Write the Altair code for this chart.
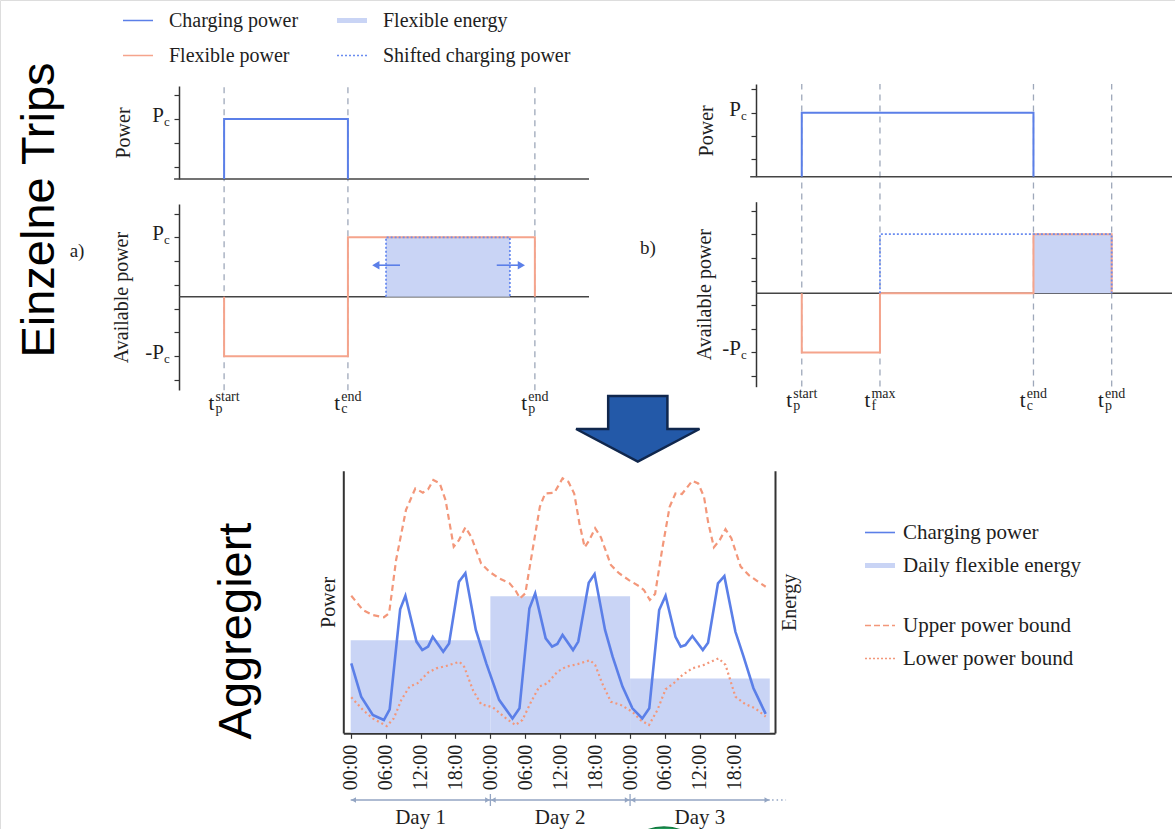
import altair as alt
import pandas as pd

# ---------------- data: single trips (time in h, power in units of P_c) ----------------
a_events = [1.1, 4.12, 8.68]
a_event_sub = ["p", "c", "p"]
a_event_sup = ["start", "end", "end"]
a_charge_t = [1.1, 1.1, 4.12, 4.12]
a_charge_p = [0, 1, 1, 0]
a_flex_t = [1.1, 1.1, 4.12, 4.12, 8.68, 8.68]
a_flex_p = [0, -1, -1, 1, 1, 0]
a_shift_t = [5.05, 5.05, 8.07, 8.07]
a_shift_p = [0, 1, 1, 0]
a_energy_t = [5.05, 8.07]
a_arrow_from = [5.39, 7.75]
a_arrow_to = [4.8, 8.35]
a_arrow_p = [0.53, 0.53]
a_arrow_shape = ["triangle-left", "triangle-right"]

b_events = [1.1, 2.98, 6.67, 8.55]
b_event_sub = ["p", "f", "c", "p"]
b_event_sup = ["start", "max", "end", "end"]
b_charge_t = [1.1, 1.1, 6.67, 6.67]
b_charge_p = [0, 1, 1, 0]
b_flex_t = [1.1, 1.1, 2.98, 2.98, 6.67, 6.67, 8.55, 8.55]
b_flex_p = [0, -1, -1, 0, 0, 1, 1, 0]
b_shift_t = [2.98, 2.98, 8.55, 8.55]
b_shift_p = [0, 1, 1, 0]
b_energy_t = [6.67, 8.55]

# legend entries (column-major order: column 1 then column 2)
top_legend_names = ["Charging power", "Flexible power", "Flexible energy", "Shifted charging power"]

# ---------------- data: aggregated (hours since day 1 00:00) ----------------
cp_h = [0.1, 1.8, 3.8, 5.7, 6.7, 8.5, 9.4, 11.3, 12.3, 13.3, 14.1, 15.9, 16.9, 18.6, 19.7, 21.5, 23.3,
        25.5, 27.8, 29.0, 30.7, 31.7, 33.5, 34.6, 35.5, 36.4, 38.2, 39.1, 40.9, 41.9, 43.7, 45.0, 46.7,
        48.4, 50.1, 51.3, 53.0, 54.1, 55.8, 56.7, 57.5, 58.7, 60.5, 61.4, 63.1, 64.2, 66.1, 67.5, 69.2, 71.3]
cp_v = [26.3, 13.7, 6.8, 4.9, 8.9, 46.7, 51.8, 34.5, 31.3, 32.6, 36.3, 30.7, 33.8, 57.1, 60.3, 38.9, 26.3,
        12.5, 5.5, 9.3, 47.0, 52.7, 35.7, 32.6, 33.6, 37.0, 31.3, 34.5, 56.7, 60.0, 38.9, 28.8, 17.5,
        9.3, 5.5, 9.3, 46.4, 51.8, 36.3, 32.6, 33.2, 36.6, 31.3, 34.1, 56.5, 59.2, 38.2, 28.8, 16.9, 7.2]
ub_h = [0.1, 2.1, 3.8, 5.7, 6.6, 7.8, 9.5, 11.1, 12.4, 13.3, 14.2, 15.3, 16.3, 17.7, 18.6, 19.7, 20.7, 22.4,
        23.8, 25.5, 27.3, 28.3, 29.1, 30.0, 31.25, 32.5, 33.4, 35.0, 36.4, 37.4, 38.4, 39.3, 40.2, 41.0,
        42.0, 43.0, 44.7, 46.1, 47.8, 49.5, 50.4, 51.4, 52.3, 53.5, 54.8, 55.8, 56.9, 58.7, 59.7, 60.7,
        61.4, 62.4, 63.4, 64.4, 65.4, 67.0, 68.4, 70.0, 71.3]
ub_v = [51.8, 46.4, 44.5, 43.7, 45.2, 65.3, 84.2, 92.3, 90.7, 92.0, 95.5, 94.2, 87.9, 70.3, 72.8, 77.6, 74.1, 64.0,
        60.9, 58.4, 56.5, 53.9, 50.8, 52.7, 69.1, 85.4, 90.4, 90.7, 96.1, 94.8, 90.4, 79.1, 70.1, 72.8,
        77.3, 73.8, 63.4, 60.3, 57.7, 55.5, 53.9, 50.2, 52.5, 69.1, 85.4, 90.4, 90.2, 95.2, 94.2, 89.2,
        79.7, 70.1, 72.8, 76.9, 73.5, 62.8, 59.6, 57.1, 55.2]
lb_h = [0.1, 2.1, 3.8, 6.2, 7.4, 8.7, 10.1, 11.5, 13.3, 14.7, 16.4, 18.7, 19.5, 21.0, 22.4, 24.4, 26.7, 28.3,
        29.5, 31.0, 32.4, 33.8, 35.5, 37.0, 39.0, 41.1, 42.0, 43.2, 44.7, 46.4, 48.4, 49.8, 51.25, 52.7,
        54.1, 55.5, 57.0, 58.7, 60.7, 63.2, 64.4, 66.1, 67.8, 69.5, 71.3]
lb_v = [13.5, 8.7, 5.5, 2.6, 5.5, 12.5, 17.5, 18.8, 22.8, 24.4, 25.3, 26.9, 25.0, 16.2, 10.9, 9.7, 5.5, 3.0,
        4.9, 11.8, 17.5, 18.8, 23.1, 25.0, 26.0, 27.5, 25.7, 18.8, 11.8, 10.6, 8.0, 4.9, 3.0, 8.7,
        16.5, 18.8, 21.9, 24.4, 25.7, 28.2, 25.7, 13.7, 10.9, 9.3, 6.2]
day_labels = ["Day 1", "Day 2", "Day 3"]
day_start = [0, 24, 48]
day_end = [24, 48, 72]
day_energy = [35.0, 51.6, 20.6]
tick_hours = [0, 6, 12, 18, 24, 30, 36, 42, 48, 54, 60, 66]
tick_labels = ["00:00", "06:00", "12:00", "18:00"] * 3
bottom_legend1 = ["Charging power", "Daily flexible energy"]
bottom_legend2 = ["Upper power bound", "Lower power bound"]

# ---------------- style ----------------
SERIF = "Liberation Serif"
SANS = "Liberation Sans"
BLUE = "#5b7fe8"
DOTBLUE = "#6a8cf0"
ORANGE = "#f5a48c"
BOUND = "#f3977a"
LIGHT = "#c9d4f5"
GUIDE = "#9ea8ba"
AXIS = "#333333"
ZERO = "#444444"
TEXT = "#1e1e1e"
DAYC = "#93a5c3"
# thick legend patch drawn as a stack of strokes
PATCH = "M-1,-0.12H1M-1,-0.06H1M-1,0H1M-1,0.06H1M-1,0.12H1"
ARROW = "M-0.48,-0.535L0.48,-0.535L0.48,0L1,0L0,0.53L-1,0L-0.48,0Z"
BLOB = "M-1,0A1,0.6 0 1,1 1,0A1,0.6 0 1,1 -1,0Z"
CW = {"s": .389, "t": .278, "a": .444, "r": .333, "e": .444, "n": .5, "d": .5, "m": .778, "x": .5}


def qs(domain, rng):
    return alt.Scale(domain=domain, range=rng, nice=False, zero=False)


class G:
    """scales + axes shared by all layers of one sub-panel"""

    def __init__(self, xs, xa, ys, ya):
        self.xs, self.xa, self.ys, self.ya = xs, xa, ys, ya

    def X(self, f):
        return alt.X(f + ":Q", scale=self.xs, axis=self.xa)

    def Y(self, f):
        return alt.Y(f + ":Q", scale=self.ys, axis=self.ya)


def left_axis(offset, ticks, title, pad):
    return alt.Axis(orient="left", offset=offset, values=ticks, labels=False, grid=False,
                    domainColor=AXIS, domainWidth=1.5, tickColor=AXIS, tickWidth=1.2, tickSize=5,
                    title=title, titleFont=SERIF, titleFontSize=20, titleFontWeight="normal",
                    titleColor=TEXT, titlePadding=pad)


def guides(g, events, lo, hi):
    d = pd.DataFrame({"t": events, "lo": [lo] * len(events), "hi": [hi] * len(events)})
    return alt.Chart(d).mark_rule(color=GUIDE, strokeWidth=1.3, strokeDash=[6, 5]).encode(
        x=g.X("t"), y=g.Y("lo"), y2=alt.Y2("hi"))


def zero_rule(g, x0, x1):
    d = pd.DataFrame({"a": [x0], "b": [x1], "z": [0]})
    return alt.Chart(d).mark_rule(color=ZERO, strokeWidth=1.6).encode(
        x=g.X("a"), x2=alt.X2("b"), y=g.Y("z"))


def step_line(g, ts, ps, color, dash=None, width=2.0):
    d = pd.DataFrame({"t": ts, "p": ps, "o": list(range(len(ts)))})
    kw = dict(color=color, strokeWidth=width)
    if dash is not None:
        kw["strokeDash"] = dash
    return alt.Chart(d).mark_line(**kw).encode(x=g.X("t"), y=g.Y("p"), order=alt.Order("o:Q"))


def energy_rect(g, t):
    d = pd.DataFrame({"a": [t[0]], "b": [t[1]], "lo": [0], "hi": [1]})
    return alt.Chart(d).mark_rect(color=LIGHT, opacity=1).encode(
        x=g.X("a"), x2=alt.X2("b"), y=g.Y("lo"), y2=alt.Y2("hi"))


def p_labels(g, vals, mains):
    d = pd.DataFrame({"xa": [0] * len(vals), "y": vals, "m": mains, "s": ["c"] * len(vals)})
    main = alt.Chart(d).mark_text(align="right", baseline="alphabetic", dx=-15, dy=3, font=SERIF,
                                  fontSize=21, color=TEXT).encode(x=g.X("xa"), y=g.Y("y"), text="m:N")
    sub = alt.Chart(d).mark_text(align="left", baseline="alphabetic", dx=-15, dy=7, font=SERIF,
                                 fontSize=13, color=TEXT).encode(x=g.X("xa"), y=g.Y("y"), text="s:N")
    return [main, sub]


def t_labels(g, events, subs, sups, ybottom, ppu):
    rows = []
    for t, sb, sp in zip(events, subs, sups):
        supw = sum(CW.get(c, .5) for c in sp) * 14
        w = 6.0 + 1.0 + supw
        left = t - (w / 2) / ppu
        rows.append({"x0": left, "x1": left + 7.0 / ppu, "yb": ybottom, "sub": sb, "sup": sp})
    d = pd.DataFrame(rows)
    base = alt.Chart(d)
    tt = base.mark_text(text="t", align="left", baseline="alphabetic", dy=20, font=SERIF, fontSize=21,
                        color=TEXT).encode(x=g.X("x0"), y=g.Y("yb"))
    sb = base.mark_text(align="left", baseline="alphabetic", dy=23, font=SERIF, fontSize=14,
                        color=TEXT).encode(x=g.X("x1"), y=g.Y("yb"), text="sub:N")
    sp = base.mark_text(align="left", baseline="alphabetic", dy=11, font=SERIF, fontSize=14,
                        color=TEXT).encode(x=g.X("x1"), y=g.Y("yb"), text="sup:N")
    return [tt, sb, sp]


def legend_kw(x, y, columns=1, size=20, offset=15, rowpad=15, colpad=34, symtype=None):
    kw = dict(orient="none", legendX=x, legendY=y, columns=columns, title=None, labelFont=SERIF,
              labelFontSize=size, labelColor=TEXT, labelOffset=offset, rowPadding=rowpad, labelLimit=500,
              columnPadding=colpad, padding=0, symbolSize=900, symbolStrokeWidth=1.6, symbolOpacity=1)
    if symtype:
        kw["symbolType"] = symtype
    return kw


# ================= panel a =================
xsA = qs([0, 10], [179, 589])
gAt = G(xsA, None, qs([0, 1.55], [179, 86]), left_axis(-179, [0.2, 0.6, 1.0, 1.4], "Power", 40))
gAb = G(xsA, None, qs([-1.57, 1.56], [390, 204]),
        left_axis(-179, [-1.4, -1, -0.6, -0.2, 0.2, 0.6, 1.0, 1.4], "Available power", 42))

pa_top = alt.layer(
    guides(gAt, a_events, -3.52, 1.55),
    zero_rule(gAt, -0.12, 10),
    step_line(gAt, a_charge_t, a_charge_p, BLUE),
    *p_labels(gAt, [1], ["P"]),
)

arrows_a = pd.DataFrame({"f": a_arrow_from, "t": a_arrow_to, "p": a_arrow_p, "s": a_arrow_shape})
leg_top_df = pd.DataFrame({"name": top_legend_names, "t": [-60] * 4, "p": [0] * 4})
ltk = legend_kw(122, 4.5, columns=2, rowpad=9)
legend_top = alt.Chart(leg_top_df).mark_point(opacity=1, filled=False).encode(
    x=gAb.X("t"), y=gAb.Y("p"),
    color=alt.Color("name:N", scale=alt.Scale(domain=top_legend_names, range=[BLUE, ORANGE, LIGHT, DOTBLUE]),
                    legend=alt.Legend(**ltk)),
    strokeDash=alt.StrokeDash("name:N", scale=alt.Scale(domain=top_legend_names,
                                                        range=[[1, 0], [1, 0], [1, 0], [2, 2]]),
                              legend=alt.Legend(**ltk)),
    shape=alt.Shape("name:N", scale=alt.Scale(domain=top_legend_names,
                                              range=["stroke", "stroke", PATCH, "stroke"]),
                    legend=alt.Legend(**ltk)),
)

pa_bot = alt.layer(
    zero_rule(gAb, 0, 10),
    energy_rect(gAb, a_energy_t),
    step_line(gAb, a_flex_t, a_flex_p, ORANGE),
    step_line(gAb, a_shift_t, a_shift_p, DOTBLUE, dash=[2, 2], width=1.8),
    alt.Chart(arrows_a).mark_rule(color=BLUE, strokeWidth=1.6).encode(x=gAb.X("f"), x2=alt.X2("t"), y=gAb.Y("p")),
    alt.Chart(arrows_a).mark_point(filled=True, opacity=1, size=70, color=BLUE).encode(
        x=gAb.X("t"), y=gAb.Y("p"), shape=alt.Shape("s:N", scale=None)),
    *p_labels(gAb, [1, -1], ["P", "-P"]),
    *t_labels(gAb, a_events, a_event_sub, a_event_sup, -1.57, 41.0),
    legend_top,
)

# ================= panel b =================
xsB = qs([0, 10], [756, 1172])
gBt = G(xsB, None, qs([0, 1.45], [176.7, 84]), left_axis(-756, [0.27, 0.635, 1.0, 1.365], "Power", 34))
gBb = G(xsB, None, qs([-1.58, 1.55], [386.7, 201.7]),
        left_axis(-756, [-1.4, -1, -0.6, -0.2, 0.2, 0.6, 1.0, 1.4], "Available power", 36))

pb_top = alt.layer(
    guides(gBt, b_events, -3.28, 1.45),
    zero_rule(gBt, -0.14, 10),
    step_line(gBt, b_charge_t, b_charge_p, BLUE),
    *p_labels(gBt, [1], ["P"]),
)

pb_bot = alt.layer(
    zero_rule(gBb, 0, 10),
    energy_rect(gBb, b_energy_t),
    step_line(gBb, b_flex_t, b_flex_p, ORANGE),
    step_line(gBb, b_shift_t, b_shift_p, DOTBLUE, dash=[2, 2], width=1.8),
    *p_labels(gBb, [-1], ["-P"]),
    *t_labels(gBb, b_events, b_event_sub, b_event_sup, -1.58, 41.6),
)

# ================= aggregated chart =================
xsG = qs([-1.27, 72.9], [343.3, 775])
ysG = qs([0, 99], [733, 470.7])

energy_axis = alt.Axis(orient="right", offset=-400, ticks=False, labels=False, grid=False,
                       domainColor=AXIS, domainWidth=2, title="Energy", titleAngle=270,
                       titleBaseline="top", titleFont=SERIF, titleFontSize=20,
                       titleFontWeight="normal", titleColor=TEXT, titlePadding=4)
gE = G(xsG, None, ysG, energy_axis)

energy_df = pd.DataFrame({"h0": day_start, "h1": day_end, "z": [0] * 3, "e": day_energy})
leg2_df = pd.DataFrame({"name": bottom_legend2, "t": [-200] * 2, "p": [0] * 2})
l2k = legend_kw(864, 609.5, size=21, offset=7, rowpad=7, symtype="stroke")
bot_bars = alt.layer(
    alt.Chart(energy_df).mark_rect(color=LIGHT, opacity=1).encode(
        x=gE.X("h0"), x2=alt.X2("h1"), y=gE.Y("z"), y2=alt.Y2("e")),
    alt.Chart(leg2_df).mark_point(opacity=1, filled=False).encode(
        x=gE.X("t"), y=gE.Y("p"),
        color=alt.Color("name:N", scale=alt.Scale(domain=bottom_legend2, range=[BOUND, BOUND]),
                        legend=alt.Legend(**l2k)),
        strokeDash=alt.StrokeDash("name:N", scale=alt.Scale(domain=bottom_legend2, range=[[6, 3], [2, 2]]),
                                  legend=alt.Legend(**l2k))),
)

label_expr = "[" + ",".join("'%s'" % s for s in tick_labels) + "][indexof([" + \
             ",".join(str(h) for h in tick_hours) + "], datum.value)]"
x_axis = alt.Axis(orient="bottom", offset=-95.7, values=tick_hours, labelExpr=label_expr, labelAngle=270,
                  labelFont=SERIF, labelFontSize=20, labelColor=TEXT, labelPadding=6, tickSize=5,
                  tickColor=AXIS, tickWidth=1.2, domainColor=AXIS, domainWidth=2, grid=False, title=None,
                  labelOverlap=False)
y_axis = alt.Axis(orient="left", offset=-343.3, ticks=False, labels=False, grid=False, domainColor=AXIS,
                  domainWidth=2, title="Power", titleFont=SERIF, titleFontSize=20, titleFontWeight="normal",
                  titleColor=TEXT, titlePadding=5)
gL = G(xsG, x_axis, ysG, y_axis)


def series(h, v, color, dash=None, width=2.2):
    d = pd.DataFrame({"h": h, "v": v})
    kw = dict(color=color, strokeWidth=width)
    if dash is not None:
        kw["strokeDash"] = dash
    return alt.Chart(d).mark_line(**kw).encode(x=gL.X("h"), y=gL.Y("v"))


one = pd.DataFrame({"k": [0]})
days_df = pd.DataFrame({"h0": day_start, "h1": day_end, "mid": [(a + b) / 2 for a, b in zip(day_start, day_end)],
                        "lab": day_labels, "a0": [s + 0.5 for s in day_start], "a1": [e - 0.5 for e in day_end]})
sep_df = pd.DataFrame({"h": day_start[1:]})
more_df = pd.DataFrame({"a": [day_end[-1] + 0.4], "b": [day_end[-1] + 2.8]})
leg1_df = pd.DataFrame({"name": bottom_legend1, "t": [-200] * 2, "p": [0] * 2})
l1k = legend_kw(864, 516.5, size=21, offset=7, rowpad=7)

bot_lines = alt.layer(
    series(lb_h, lb_v, BOUND, dash=[2, 3]),
    series(ub_h, ub_v, BOUND, dash=[6, 4]),
    series(cp_h, cp_v, BLUE, width=2.6),
    alt.Chart(days_df).mark_rule(color=DAYC, strokeWidth=1.3).encode(
        x=gL.X("h0"), x2=alt.X2("h1"), y=alt.value(800)),
    alt.Chart(days_df).mark_point(shape="triangle-left", filled=True, opacity=1, size=30, color=DAYC).encode(
        x=gL.X("a0"), y=alt.value(800)),
    alt.Chart(days_df).mark_point(shape="triangle-right", filled=True, opacity=1, size=30, color=DAYC).encode(
        x=gL.X("a1"), y=alt.value(800)),
    alt.Chart(sep_df).mark_rule(color=DAYC, strokeWidth=1.3).encode(
        x=gL.X("h"), y=alt.value(794), y2=alt.value(806)),
    alt.Chart(more_df).mark_rule(color=DAYC, strokeWidth=1.5, strokeDash=[1.5, 3]).encode(
        x=gL.X("a"), x2=alt.X2("b"), y=alt.value(800)),
    # partly hidden green logo at the bottom edge (drawn behind the day labels)
    alt.Chart(one).mark_point(shape=BLOB, size=3600, filled=True, opacity=1, fill="#1f9a57",
                              stroke="#137a40", strokeWidth=1.5).encode(x=alt.value(664), y=alt.value(845)),
    alt.Chart(days_df).mark_text(font=SERIF, fontSize=21, color=TEXT, baseline="alphabetic").encode(
        x=gL.X("mid"), y=alt.value(824), text="lab:N"),
    alt.Chart(leg1_df).mark_point(opacity=1, filled=False).encode(
        x=gL.X("t"), y=gL.Y("p"),
        color=alt.Color("name:N", scale=alt.Scale(domain=bottom_legend1, range=[BLUE, LIGHT]),
                        legend=alt.Legend(**l1k)),
        shape=alt.Shape("name:N", scale=alt.Scale(domain=bottom_legend1, range=["stroke", PATCH]),
                        legend=alt.Legend(**l1k))),
)

# ================= annotations =================
annot = alt.layer(
    alt.Chart(pd.DataFrame({"s": ["Einzelne Trips"]})).mark_text(
        angle=270, font=SANS, fontSize=47, align="center", baseline="middle", color="#000000").encode(
        x=alt.value(40), y=alt.value(210), text="s:N"),
    alt.Chart(pd.DataFrame({"s": ["Aggregiert"]})).mark_text(
        angle=270, font=SANS, fontSize=47, align="center", baseline="middle", color="#000000").encode(
        x=alt.value(237), y=alt.value(631), text="s:N"),
    alt.Chart(pd.DataFrame({"s": ["a)"]})).mark_text(
        font=SERIF, fontSize=19, align="center", baseline="middle", color=TEXT).encode(
        x=alt.value(77), y=alt.value(251), text="s:N"),
    alt.Chart(pd.DataFrame({"s": ["b)"]})).mark_text(
        font=SERIF, fontSize=19, align="center", baseline="middle", color=TEXT).encode(
        x=alt.value(648), y=alt.value(248), text="s:N"),
    alt.Chart(one).mark_point(shape=ARROW, size=15228, filled=True, opacity=1, fill="#2359a8",
                              stroke="#10274d", strokeWidth=2.5).encode(x=alt.value(637.8), y=alt.value(429)),
)

chart = alt.layer(pa_top, pa_bot, pb_top, pb_bot, bot_bars, bot_lines, annot).resolve_scale(
    x="independent", y="independent", color="independent", strokeDash="independent", shape="independent"
).resolve_axis(x="independent", y="independent").resolve_legend(
    color="independent", strokeDash="independent", shape="independent"
).properties(
    width=1175, height=829, padding=0, autosize=alt.AutoSizeParams(type="none")
).configure_view(stroke=None).configure(font=SERIF)

chart.save("out.html", embed_options={"renderer": "svg", "actions": False})
